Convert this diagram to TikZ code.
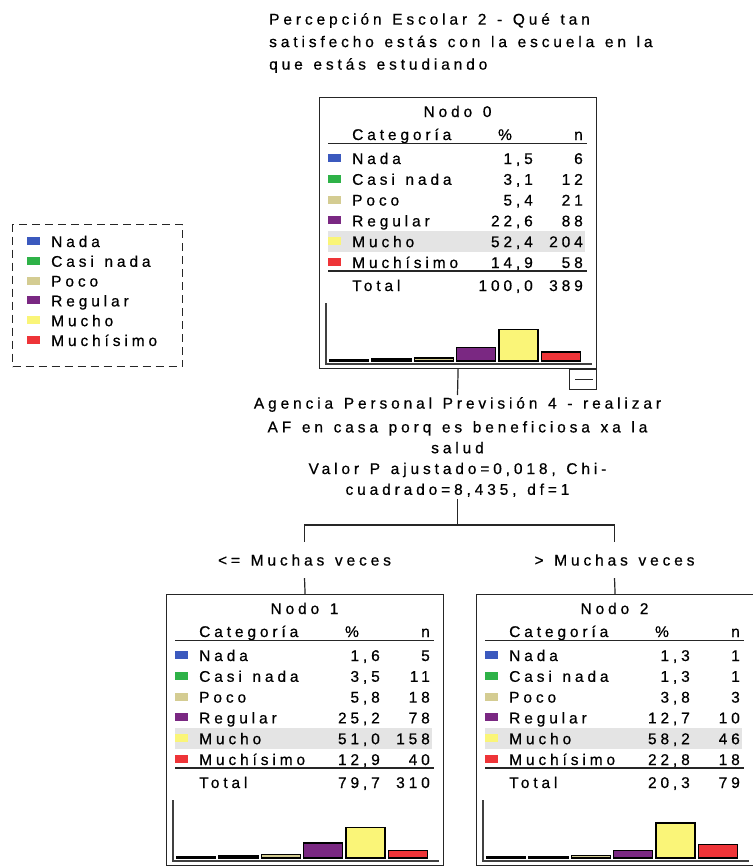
\documentclass[tikz,border=0pt]{standalone}
\usepackage{fontspec}
\setmainfont{Liberation Sans}[LetterSpace=25, WordSpace=1.3, FakeBold=0.6]
\usepackage{tikz}
\usetikzlibrary{calc}

\definecolor{cnada}{RGB}{59,89,190}
\definecolor{ccasi}{RGB}{46,178,72}
\definecolor{cpoco}{RGB}{212,204,146}
\definecolor{creg}{RGB}{122,40,130}
\definecolor{cmucho}{RGB}{250,245,120}
\definecolor{cmuchi}{RGB}{238,52,56}
\definecolor{gris}{RGB}{228,228,228}

\pgfkeys{/pgf/number format/.cd, fixed, fixed zerofill, precision=1, use comma, assume math mode=true}

% tabla de un nodo: nombre, x, y, titulo, filas, total %, total n
\newcommand{\nodotabla}[7]{%
  \begin{scope}[shift={(#2,#3)}]
    \node[caja] (#1) at (0,0) {};
    \fill[gris] (9,134) rectangle (266,155);
    \node[txt, anchor=base] (#1-tit) at (138.5,20) {#4};
    \node[txt, anchor=base west] (#1-cat) at (33,43) {Categoría};
    \node[txt, anchor=base] (#1-pc) at (186,43) {\%};
    \node[txt, anchor=base east] (#1-n) at (264,43) {n};
    \draw[regla] (9,46.5) -- (268,46.5);
    \foreach \cat/\col/\pc/\cnt [count=\i] in {#5} {
      \pgfmathsetmacro{\yb}{67+20.8*(\i-1)}
      \pgfmathsetmacro{\xb}{10.5+42.4*(\i-1)}
      \fill[\col] (9,\yb-10) rectangle (22,\yb-2);
      \node[txt, anchor=base west] (#1-c\i) at (33,\yb) {\cat};
      \node[txt, anchor=base east] (#1-p\i) at (214,\yb) {\pgfmathprintnumber{\pc}};
      \node[txt, anchor=base east] (#1-k\i) at (264,\yb) {\cnt};
      \draw[barra, fill=\col] (\xb,264) rectangle ++(39,-0.6*\pc);
    }
    \draw[regla] (9,174) -- (268,174);
    \node[txt, anchor=base west] (#1-tot) at (33,194) {Total};
    \node[txt, anchor=base east] (#1-totp) at (214,194) {#6};
    \node[txt, anchor=base east] (#1-totn) at (264,194) {#7};
    % eje del histograma
    \draw[eje] (7,206) |- (273,267);
  \end{scope}}

\begin{document}
\begin{tikzpicture}[
    x=1pt, y=-1pt,
    txt/.style={font=\fontsize{15.5}{17}\selectfont, inner sep=0pt},
    caja/.style={draw=black!85, line width=1.2pt, anchor=north west,
      minimum width=277pt, minimum height=271pt, inner sep=0pt},
    regla/.style={black!85, line width=1.2pt},
    barra/.style={draw=black, line width=1.5pt},
    eje/.style={black!75, line width=1.4pt},
    linea/.style={black!85, line width=1.2pt},
    leyenda/.style={draw=black!85, line width=1.3pt, dash pattern=on 8pt off 5pt,
      anchor=north west, minimum width=170pt, minimum height=142pt, inner sep=0pt}
    ]
    \useasboundingbox (0,0) rectangle (752,867);

    % titulo
    \node[txt, anchor=north west, align=left, font=\fontsize{15.5}{22.5}\selectfont] (titulo) at (269,13)
      {Percepción Escolar 2 - Qué tan\\satisfecho estás con la escuela en la\\que estás estudiando};

    % leyenda
    \node[leyenda] (ley) at (12,224) {};
    \foreach \cat/\col [count=\i] in {Nada/cnada, Casi nada/ccasi, Poco/cpoco,
        Regular/creg, Mucho/cmucho, Muchísimo/cmuchi} {
      \pgfmathsetmacro{\yb}{247+19.8*(\i-1)}
      \fill[\col] (27,\yb-10) rectangle (40,\yb-2);
      \node[txt, anchor=base west] (ley-\i) at (51,\yb) {\cat};
    }

    % nodos
    \nodotabla{n0}{319}{97}{Nodo 0}{Nada/cnada/1.5/6, Casi nada/ccasi/3.1/12, Poco/cpoco/5.4/21,
      Regular/creg/22.6/88, Mucho/cmucho/52.4/204, Muchísimo/cmuchi/14.9/58}{100,0}{389}
    \nodotabla{n1}{166}{594}{Nodo 1}{Nada/cnada/1.6/5, Casi nada/ccasi/3.5/11, Poco/cpoco/5.8/18,
      Regular/creg/25.2/78, Mucho/cmucho/51.0/158, Muchísimo/cmuchi/12.9/40}{79,7}{310}
    \nodotabla{n2}{476}{594}{Nodo 2}{Nada/cnada/1.3/1, Casi nada/ccasi/1.3/1, Poco/cpoco/3.8/3,
      Regular/creg/12.7/10, Mucho/cmucho/58.2/46, Muchísimo/cmuchi/22.8/18}{20,3}{79}

    % boton
    \node[draw=black!85, line width=1.2pt, anchor=north east, minimum width=27pt,
      minimum height=20pt, inner sep=0pt] (n0-menos) at (n0.south east) {};
    \draw[linea] ([xshift=6pt]n0-menos.west) -- ([xshift=-4pt]n0-menos.east);

    % division
    \node[txt, anchor=north, align=center, font=\fontsize{15.5}{20.8}\selectfont,
      inner ysep=2pt] (corte) at (457.5,395)
      {Agencia Personal Previsión 4 - realizar\\[3pt]AF en casa porq es beneficiosa xa la\\salud\\
       Valor P ajustado=0,018, Chi-\\cuadrado=8,435, df=1};
    \node[txt, minimum height=36pt] (izq) at (304.5,560) {<= Muchas veces};
    \node[txt, minimum height=36pt] (der) at (614.5,560) {> Muchas veces};

    \draw[linea] (n0.south) -- (corte.north);
    \draw[linea] (corte.south) -- (457.5,525) coordinate (bif);
    \draw[linea] (izq.north) |- (bif) -| (der.north);
    \draw[linea] (izq.south) -- (n1.north);
    \draw[linea] (der.south) -- (n2.north);

\end{tikzpicture}
\end{document}
